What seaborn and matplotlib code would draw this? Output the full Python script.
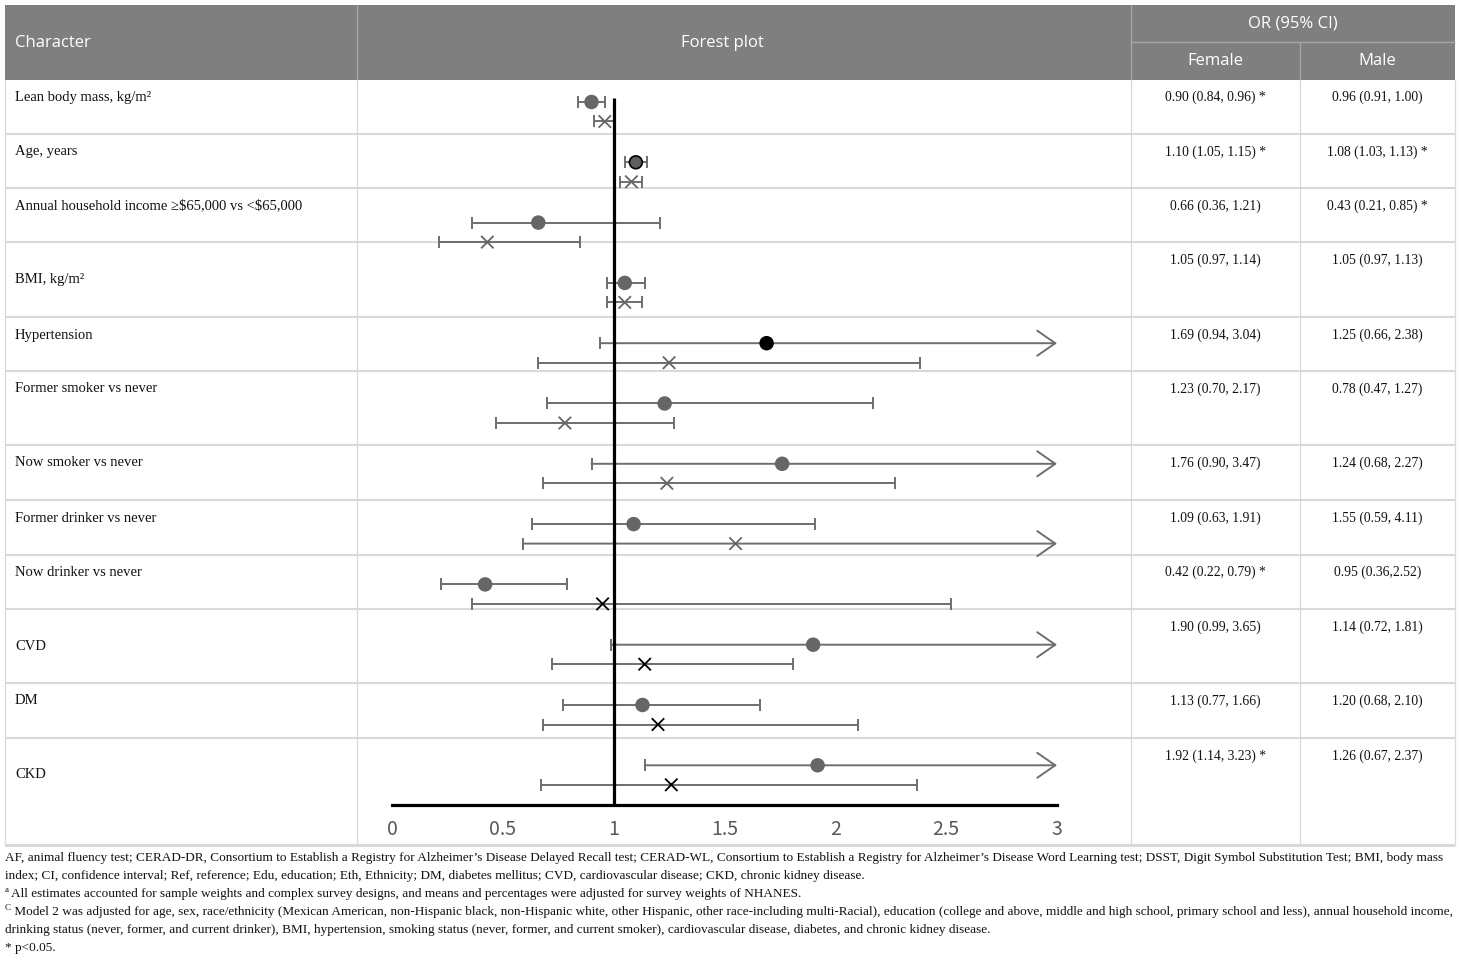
import matplotlib
matplotlib.use("Agg")
import matplotlib.pyplot as plt
import numpy as np
import pandas as pd
import seaborn as sns

# ---- data ----
characters = [
    "Lean body mass, kg/m²",
    "Age, years",
    r"Annual household income ≥\$65,000 vs <\$65,000",
    "BMI, kg/m²",
    "Hypertension",
    "Former smoker vs never",
    "Now smoker vs never",
    "Former drinker vs never",
    "Now drinker vs never",
    "CVD",
    "DM",
    "CKD",
]
female_or = [0.90, 1.10, 0.66, 1.05, 1.69, 1.23, 1.76, 1.09, 0.42, 1.90, 1.13, 1.92]
female_lo = [0.84, 1.05, 0.36, 0.97, 0.94, 0.70, 0.90, 0.63, 0.22, 0.99, 0.77, 1.14]
female_hi = [0.96, 1.15, 1.21, 1.14, 3.04, 2.17, 3.47, 1.91, 0.79, 3.65, 1.66, 3.23]
male_or = [0.96, 1.08, 0.43, 1.05, 1.25, 0.78, 1.24, 1.55, 0.95, 1.14, 1.20, 1.26]
male_lo = [0.91, 1.03, 0.21, 0.97, 0.66, 0.47, 0.68, 0.59, 0.36, 0.72, 0.68, 0.67]
male_hi = [1.00, 1.13, 0.85, 1.13, 2.38, 1.27, 2.27, 4.11, 2.52, 1.81, 2.10, 2.37]
female_text = [
    "0.90 (0.84, 0.96) *", "1.10 (1.05, 1.15) *", "0.66 (0.36, 1.21)",
    "1.05 (0.97, 1.14)", "1.69 (0.94, 3.04)", "1.23 (0.70, 2.17)",
    "1.76 (0.90, 3.47)", "1.09 (0.63, 1.91)", "0.42 (0.22, 0.79) *",
    "1.90 (0.99, 3.65)", "1.13 (0.77, 1.66)", "1.92 (1.14, 3.23) *",
]
male_text = [
    "0.96 (0.91, 1.00)", "1.08 (1.03, 1.13) *", "0.43 (0.21, 0.85) *",
    "1.05 (0.97, 1.13)", "1.25 (0.66, 2.38)", "0.78 (0.47, 1.27)",
    "1.24 (0.68, 2.27)", "1.55 (0.59, 4.11)", "0.95 (0.36,2.52)",
    "1.14 (0.72, 1.81)", "1.20 (0.68, 2.10)", "1.26 (0.67, 2.37)",
]
female_shade = ["grey", "edged", "grey", "grey", "black", "grey",
                "grey", "grey", "grey", "grey", "grey", "grey"]
male_shade = ["grey"] * 8 + ["black"] * 4
x_ticks = [0, 0.5, 1, 1.5, 2, 2.5, 3]
x_tick_labels = ["0", "0.5", "1", "1.5", "2", "2.5", "3"]

footnotes = [
    ("", "AF, animal fluency test; CERAD-DR, Consortium to Establish a Registry for Alzheimer’s Disease Delayed Recall test; "
         "CERAD-WL, Consortium to Establish a Registry for Alzheimer’s Disease Word Learning test; DSST, Digit Symbol Substitution Test; BMI, body mass"),
    ("", "index; CI, confidence interval; Ref, reference; Edu, education; Eth, Ethnicity; DM, diabetes mellitus; "
         "CVD, cardiovascular disease; CKD, chronic kidney disease."),
    ("a", "All estimates accounted for sample weights and complex survey designs, and means and percentages were adjusted for survey weights of NHANES."),
    ("C", " Model 2 was adjusted for age, sex, race/ethnicity (Mexican American, non-Hispanic black, non-Hispanic white, other Hispanic, "
          "other race-including multi-Racial), education (college and above, middle and high school, primary school and less), annual household income,"),
    ("", "drinking status (never, former, and current drinker), BMI, hypertension, smoking status (never, former, and current smoker), "
         "cardiovascular disease, diabetes, and chronic kidney disease."),
    ("", "* p<0.05."),
]

# ---- layout (pixels) ----
W, H = 1460, 960
row_edges = [80, 134, 188, 242, 317, 371, 445, 500, 555, 609, 683, 738, 845]
label_y = [97, 152, 206, 280, 335, 389, 463, 518, 572, 646, 701, 775]
or_y = [97, 152, 206, 260, 335, 389, 463, 518, 572, 627, 701, 756]
col_x = [5, 357, 1131, 1300, 1455]
foot_y = [858, 876, 894, 912, 930, 948]

sns.set_theme(style="white")
serif = ["Liberation Serif", "DejaVu Serif"]
plt.rcParams["font.family"] = ["Open Sans", "DejaVu Sans"]

fig = plt.figure(figsize=(W / 100, H / 100), dpi=100)
fig.patch.set_facecolor("white")

tab = fig.add_axes([0, 0, 1, 1])
tab.set_xlim(0, W)
tab.set_ylim(H, 0)
tab.axis("off")

header_col = "#7f7f7f"
grid_col = "#d9d9d9"
tab.add_patch(plt.Rectangle((col_x[0], 5), col_x[-1] - col_x[0], 75,
                            facecolor=header_col, edgecolor="none"))
tab.vlines([col_x[1], col_x[2]], 5, 80, color="#a5a5a5", lw=1)
tab.hlines(42, col_x[2], col_x[4], color="#a5a5a5", lw=1)
tab.vlines(col_x[3], 42, 80, color="#a5a5a5", lw=1)
hdr = dict(color="white", fontsize=12, va="center")
tab.text(15, 43, "Character", ha="left", **hdr)
tab.text(722, 43, "Forest plot", ha="center", **hdr)
tab.text((col_x[2] + col_x[4]) / 2, 24, "OR (95% CI)", ha="center", **hdr)
tab.text((col_x[2] + col_x[3]) / 2, 61, "Female", ha="center", **hdr)
tab.text((col_x[3] + col_x[4]) / 2, 61, "Male", ha="center", **hdr)

tab.hlines(row_edges[1:-1], col_x[0], col_x[-1], color=grid_col, lw=1.5)
tab.hlines(row_edges[-1], col_x[0], col_x[-1], color=grid_col, lw=2.2)
tab.vlines(col_x, row_edges[0], row_edges[-1], color=grid_col, lw=0.9)

for i, name in enumerate(characters):
    tab.text(15, label_y[i], name, family=serif, fontsize=10.5, color="#111111",
             ha="left", va="center")
    tab.text((col_x[2] + col_x[3]) / 2, or_y[i], female_text[i], family=serif,
             fontsize=9.8, color="#111111", ha="center", va="center")
    tab.text((col_x[3] + col_x[4]) / 2, or_y[i], male_text[i], family=serif,
             fontsize=9.8, color="#111111", ha="center", va="center")

# footnotes
for (sup, txt), y in zip(footnotes, foot_y):
    x0 = 5
    if sup:
        tab.text(x0, y - 4, sup, family=serif, fontsize=6.5, color="#111111",
                 ha="left", va="center")
        x0 += 6
    tab.text(x0, y, txt, family=serif, fontsize=9.5, color="#111111",
             ha="left", va="center")

# ---- forest plot ----
x_min, x_max = 0, 3
px0, px1, py_top, py_bot = 392, 1057, 95, 805
ax = fig.add_axes([px0 / W, (H - py_bot) / H, (px1 - px0) / W, (py_bot - py_top) / H])
ax.patch.set_alpha(0)
step = 60.3
y_top = (py_top - 102) / step
y_bot = (py_bot - 102) / step
male_off = 19.5 / step
ax.set_xlim(x_min, x_max)
ax.set_ylim(y_bot, y_top)

line_col = "#6e6e6e"
pos = np.arange(len(characters))
fem = pd.DataFrame({"or": female_or, "lo": female_lo, "hi": female_hi,
                    "pos": pos, "shade": female_shade})
mal = pd.DataFrame({"or": male_or, "lo": male_lo, "hi": male_hi,
                    "pos": pos + male_off, "shade": male_shade})

for df in (fem, mal):
    for _, r in df.iterrows():
        if r["hi"] <= x_max:
            ax.errorbar(r["or"], r["pos"], xerr=[[r["or"] - r["lo"]], [r["hi"] - r["or"]]],
                        fmt="none", ecolor=line_col, elinewidth=1.4, capsize=4.5,
                        capthick=1.4, zorder=1)
        else:
            ax.annotate("", xy=(x_max, r["pos"]), xytext=(r["lo"], r["pos"]),
                        arrowprops=dict(arrowstyle="->,head_length=0.65,head_width=0.45",
                                        color=line_col, lw=1.4, shrinkA=0, shrinkB=0,
                                        mutation_scale=20),
                        annotation_clip=False, zorder=1)
            ax.plot([r["lo"]], [r["pos"]], marker="|", ms=9, mew=1.4,
                    color=line_col, zorder=1)

ax.vlines(1, (98 - 102) / step, y_bot, color="black", lw=2.3, zorder=2)

palette = {"grey": "#666666", "edged": "#5f5f5f", "black": "#000000"}
edges = ["#000000" if s != "grey" else "#666666" for s in female_shade]
sns.scatterplot(data=fem, x="or", y="pos", hue="shade", palette=palette,
                marker="o", s=85, edgecolor=edges, linewidth=1.2,
                legend=False, ax=ax, zorder=3, clip_on=False)
sns.scatterplot(data=mal, x="or", y="pos", hue="shade", palette=palette,
                marker="x", s=80, linewidth=1.3, legend=False, ax=ax,
                zorder=3, clip_on=False)

ax.set_xticks(x_ticks)
ax.set_xticklabels(x_tick_labels, family=["Noto Sans CJK SC", "DejaVu Sans"],
                   fontsize=14, color="#595959")
ax.set_yticks([])
ax.set_xlabel("")
ax.set_ylabel("")
ax.tick_params(axis="x", length=0, pad=10)
for side in ("top", "left", "right"):
    ax.spines[side].set_visible(False)
ax.spines["bottom"].set_color("black")
ax.spines["bottom"].set_linewidth(2.3)

fig.savefig("out.png", dpi=100)
